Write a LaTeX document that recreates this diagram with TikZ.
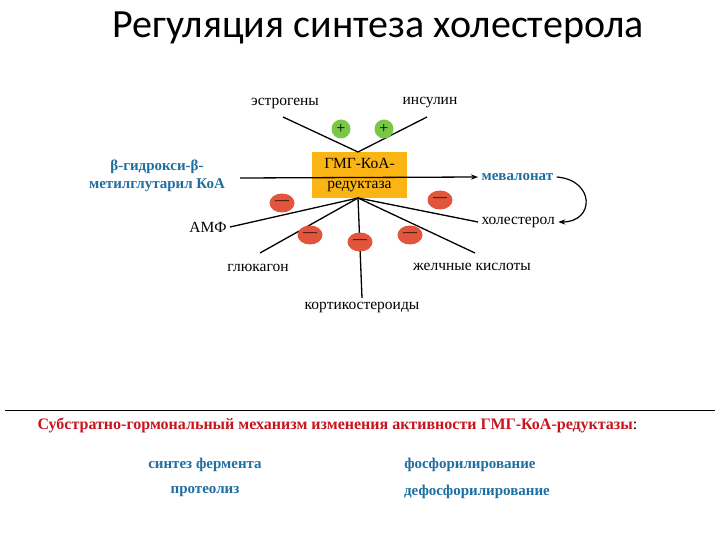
\documentclass[tikz,border=0pt]{standalone}
\usepackage{fontspec}
\setmainfont{Liberation Serif}
\newfontfamily\titlefont{Carlito}
\usetikzlibrary{arrows.meta,shapes.geometric}
\definecolor{tblue}{RGB}{30,110,160}
\definecolor{tred}{RGB}{200,20,30}
\definecolor{pgreen}{RGB}{120,200,70}
\definecolor{mred}{RGB}{225,85,60}
\definecolor{boxor}{RGB}{250,180,20}
\tikzset{
 lbl/.style={font=\fontsize{15.5}{18}\selectfont},
 blbl/.style={font=\fontsize{15}{18}\selectfont\bfseries,text=tblue,align=center},
 ln/.style={line width=1.3pt},
 plus/.style={circle,fill=pgreen,minimum size=19pt,inner sep=0pt,font=\fontsize{16}{16}\selectfont},
 minus/.style={ellipse,fill=mred,minimum width=25pt,minimum height=19pt,inner sep=0pt,font=\fontsize{14}{14}\selectfont},
}
\begin{document}
\begin{tikzpicture}[x=1pt,y=-1pt]
\useasboundingbox (0,0) rectangle (720,540);
\node[font=\titlefont\fontsize{40}{44}\selectfont] (title) at (378,28) {Регуляция синтеза холестерола};
\node[fill=boxor,minimum width=95pt,minimum height=46pt,align=center,font=\fontsize{15.5}{20}\selectfont] (box) at (359.5,175) {ГМГ-КоА-\\редуктаза};
\coordinate (top) at (358,152);
\coordinate (bot) at (358,198);
\node[lbl] (estr) at (285,103) {эстрогены};
\node[lbl] (ins) at (430,103) {инсулин};
\coordinate (e1) at (283,117);
\coordinate (i1) at (427,117);
\draw[ln] (e1) -- (top);
\draw[ln] (i1) -- (top);
\node[plus] (p1) at (341,129) {+};
\node[plus] (p2) at (384,129) {+};
\node[blbl] (hmg) at (157,176) {β-гидрокси-β-\\метилглутарил КоА};
\coordinate (h1) at (240,178);
\node[blbl,anchor=west] (mev) at (478,177) {мевалонат};
\draw[ln,-{Stealth[length=7pt]}] (h1) -- (mev.west);
\node[lbl,anchor=west] (chol) at (478,222) {холестерол};
\draw[line width=1.2pt,-{Stealth[length=7pt]}] (mev.east) .. controls (595,180) and (595,222) .. (chol.east);
\node[lbl] (amf) at (208,227) {АМФ};
\node[lbl] (glu) at (258,268) {глюкагон};
\node[lbl] (cort) at (362,307) {кортикостероиды};
\node[lbl] (bile) at (472,267) {желчные кислоты};
\draw[ln] (amf.east) -- (bot);
\coordinate (g1) at (260,253);
\draw[ln] (g1) -- (bot);
\draw[ln] (cort.north) -- (bot);
\coordinate (b1) at (475,253);
\draw[ln] (b1) -- (bot);
\draw[ln] (chol.west) -- (bot);
\node[minus] (m1) at (282,203) {—};
\node[minus] (m2) at (310,235) {—};
\node[minus] (m3) at (360,242) {—};
\node[minus] (m4) at (410,235) {—};
\node[minus] (m5) at (440,200) {—};
\coordinate (l1) at (5,410);
\coordinate (l2) at (715,410);
\draw[line width=1pt] (l1) -- (l2);
\node[anchor=west,font=\fontsize{16}{18}\selectfont] (sub) at (34,425) {\textcolor{tred}{\bfseries Субстратно-гормональный механизм изменения активности ГМГ-КоА-редуктазы}:};
\node[blbl] (s1) at (205,465) {синтез фермента};
\node[blbl] (s2) at (470,465) {фосфорилирование};
\node[blbl] (s3) at (205,492) {протеолиз};
\node[blbl] (s4) at (477,492) {дефосфорилирование};
\end{tikzpicture}
\end{document}
